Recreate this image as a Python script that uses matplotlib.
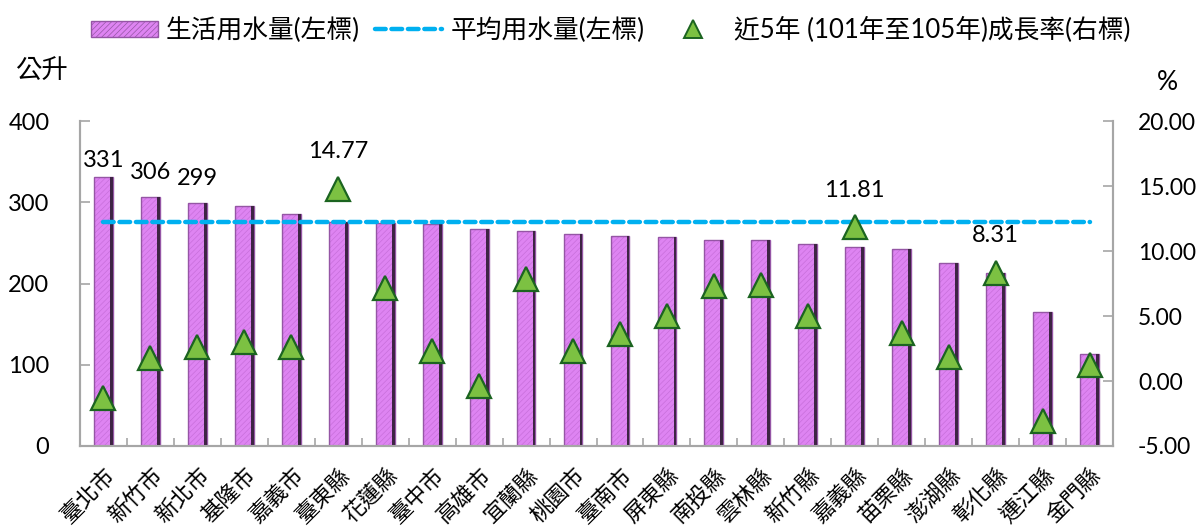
import matplotlib
matplotlib.use("Agg")
import matplotlib.pyplot as plt
import matplotlib.transforms as mtransforms
from matplotlib.lines import Line2D
from matplotlib.patches import Patch
import numpy as np

plt.rcParams['font.family'] = ['Lato', 'Noto Sans CJK TC', 'DejaVu Sans']
plt.rcParams['hatch.linewidth'] = 0.5

categories = ["臺北市", "新竹市", "新北市", "基隆市", "嘉義市", "臺東縣", "花蓮縣", "臺中市",
              "高雄市", "宜蘭縣", "桃園市", "臺南市", "屏東縣", "南投縣", "雲林縣", "新竹縣",
              "嘉義縣", "苗栗縣", "澎湖縣", "彰化縣", "連江縣", "金門縣"]
water_use = [331, 306, 299, 296, 285, 276, 275, 273, 267, 265, 261, 258, 257, 254, 253, 249,
             245, 242, 225, 213, 165, 113]
average_use = 276
growth = [-1.27, 1.77, 2.59, 3.02, 2.60, 14.77, 7.17, 2.32, -0.40, 7.86, 2.28, 3.58, 5.00,
          7.32, 7.35, 5.01, 11.81, 3.68, 1.85, 8.31, -3.09, 1.26]
bar_labels = {0: "331", 1: "306", 2: "299"}
growth_labels = {5: "14.77", 16: "11.81", 19: "8.31"}
left_ticks = [0, 100, 200, 300, 400]
right_ticks = [-5, 0, 5, 10, 15, 20]

fig = plt.figure(figsize=(12.01, 5.30), dpi=100)
ax = fig.add_axes([80 / 1201, 1 - 446 / 530, (1113 - 80) / 1201, (446 - 121) / 530])
ax2 = ax.twinx()

x = np.arange(len(categories))
bw = 0.40
bar_face = '#de84f2'
# main bars with fine hatch
ax.bar(x, water_use, width=bw, color=bar_face, edgecolor='#c86fdb', hatch='//////',
       linewidth=0, zorder=2)
ax.bar(x, water_use, width=bw, facecolor='none', edgecolor='#9556a5', linewidth=1.0, zorder=3)
# dark right side (bevel)
ax.bar(x + bw / 2 - 0.03, water_use, width=0.06, color='#3e2444', linewidth=0, zorder=3)

# average dashed line
ax.plot([x[0], x[-1]], [average_use, average_use], color='#00b0f0', lw=3.2,
        dashes=(2.4, 1.3), dash_capstyle='round', zorder=4)

ax.set_xlim(-0.5, len(categories) - 0.5)
ax.set_ylim(0, 400)
ax.set_yticks(left_ticks)
ax2.set_ylim(-5, 20)
ax2.set_yticks(right_ticks)
ax2.set_yticklabels([f"{v:.2f}" for v in right_ticks])

# triangles on secondary axis
ax2.plot(x, growth, linestyle='none', marker='^', markersize=17, markerfacecolor='#7cc142',
         markeredgecolor='#1b6420', markeredgewidth=1.6, zorder=5)

# labels
for i, t in bar_labels.items():
    off = 6 if i == 0 else 14
    ax.annotate(t, (x[i], water_use[i]), xytext=(0, off), textcoords='offset pixels',
                ha='center', va='bottom', fontsize=17, color='black', zorder=6)
for i, t in growth_labels.items():
    ax2.annotate(t, (x[i], growth[i]), xytext=(0, 37), textcoords='offset pixels',
                 ha='center', va='center', fontsize=17, color='black', zorder=6)

# spines & ticks
spine_c = '#a6a6a6'
for a in (ax, ax2):
    a.spines['top'].set_visible(False)
    for s in ('left', 'right', 'bottom'):
        a.spines[s].set_color(spine_c)
        a.spines[s].set_linewidth(1.5)
ax.set_xticks(x)
ax.set_xticks(np.arange(len(categories) + 1) - 0.5, minor=True)
ax.tick_params(axis='x', which='major', length=0, pad=13)
ax.tick_params(axis='x', which='minor', direction='in', length=6, width=1.2, color=spine_c)
ax.set_xticklabels(categories, rotation=45, ha='right', va='top', rotation_mode='anchor',
                   fontsize=16)
shift = mtransforms.ScaledTranslation(1 / 100, 0, fig.dpi_scale_trans)
for lab in ax.get_xticklabels():
    lab.set_transform(lab.get_transform() + shift)
ax.tick_params(axis='y', direction='in', length=7, width=1.2, color=spine_c, pad=22,
               labelsize=17)
ax2.tick_params(axis='y', direction='in', length=7, width=1.2, color=spine_c, pad=18,
                labelsize=16.5)

fig.text(15 / 1201, 1 - 70 / 530, "公升", fontsize=19, ha='left', va='center')
fig.text(1167 / 1201, 1 - 82 / 530, "%", fontsize=19, ha='center', va='center')

handles = [
    Patch(facecolor=bar_face, edgecolor='#9556a5', hatch='//////', linewidth=1.0),
    Line2D([0], [0], color='#00b0f0', lw=3.2, dashes=(2.4, 1.3), dash_capstyle='round'),
    Line2D([0], [0], linestyle='none', marker='^', markersize=13, markerfacecolor='#7cc142',
           markeredgecolor='#1b6420', markeredgewidth=1.4),
]
labels = ["生活用水量(左標)", "平均用水量(左標)", "近5年 (101年至105年)成長率(右標)"]
fig.legend(handles, labels, loc='center', bbox_to_anchor=(611 / 1201, 1 - 30 / 530), ncol=3,
           frameon=False, fontsize=18.5, handlelength=2.6, handleheight=0.62,
           handletextpad=0.31, columnspacing=0.6, borderpad=0)

fig.savefig('out.png', dpi=100)
